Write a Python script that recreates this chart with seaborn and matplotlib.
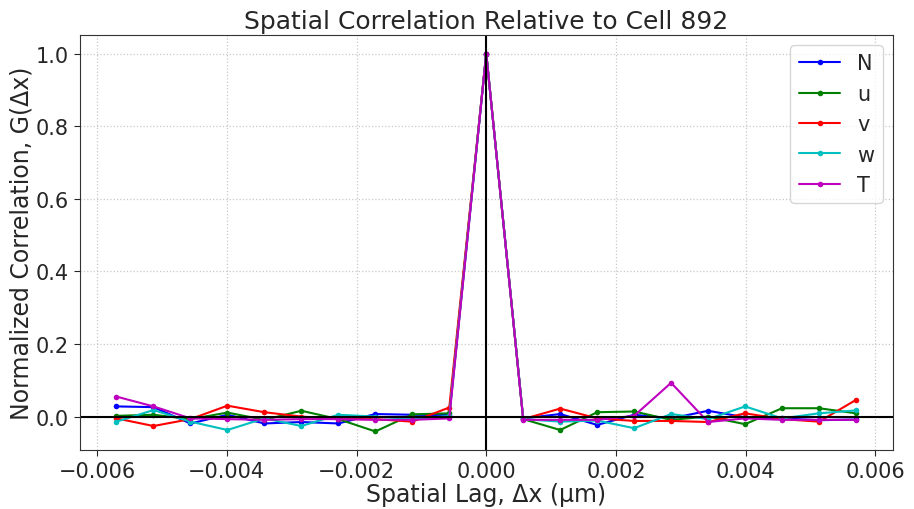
import numpy as np
import pandas as pd
import matplotlib
matplotlib.use("Agg")
import matplotlib.pyplot as plt
import seaborn as sns

lag_step = 0.00057
lag_index = list(range(-10, 11))

N_vals = [0.028, 0.026, -0.019, 0.005, -0.019, -0.015, -0.019, 0.007, 0.005, 0.004, 1.0,
          -0.005, 0.007, -0.023, 0.005, -0.005, 0.016, -0.002, -0.005, -0.010, -0.008]
u_vals = [0.002, 0.005, -0.007, 0.011, -0.009, 0.016, -0.007, -0.041, 0.006, 0.009, 1.0,
          -0.007, -0.037, 0.012, 0.014, -0.009, 0.000, -0.021, 0.023, 0.023, 0.009]
v_vals = [-0.005, -0.026, -0.007, 0.030, 0.012, 0.000, -0.007, -0.007, -0.014, 0.025, 1.0,
          -0.007, 0.022, -0.005, -0.012, -0.012, -0.015, 0.009, -0.007, -0.014, 0.046]
w_vals = [-0.014, 0.018, -0.014, -0.037, -0.005, -0.026, 0.005, 0.000, -0.007, 0.002, 1.0,
          -0.007, -0.014, -0.011, -0.032, 0.007, -0.007, 0.028, -0.005, 0.009, 0.017]
T_vals = [0.055, 0.028, -0.005, -0.007, -0.009, -0.007, -0.007, -0.009, -0.009, -0.005, 1.0,
          -0.009, -0.009, -0.009, 0.002, 0.093, -0.015, -0.005, -0.009, -0.009, -0.009]

series_names = ["N", "u", "v", "w", "T"]
series_vals = [N_vals, u_vals, v_vals, w_vals, T_vals]
colors = ["b", "g", "r", "c", "m"]

lags = [i * lag_step for i in lag_index]
rows = []
for name, vals in zip(series_names, series_vals):
    for x, y in zip(lags, vals):
        rows.append({"lag": x, "G": y, "var": name})
df = pd.DataFrame(rows)

sns.set_style("white")
plt.rcParams["font.family"] = ["DejaVu Sans"]

fig, ax = plt.subplots(figsize=(9.14, 5.1), dpi=100)
for name, col in zip(series_names, colors):
    sns.lineplot(data=df[df["var"] == name], x="lag", y="G", color=col, marker="o",
                 markersize=4, markeredgewidth=0, linewidth=1.5, label=name, ax=ax)

ax.axhline(0, color="black", linewidth=1.5)
ax.axvline(0, color="black", linewidth=1.5)
ax.grid(True, linestyle=":", color="#c8c8c8", linewidth=0.9)
ax.set_yticks([0.0, 0.2, 0.4, 0.6, 0.8, 1.0])
ax.set_title("Spatial Correlation Relative to Cell 892", fontsize=18, pad=5)
ax.set_xlabel("Spatial Lag, Δx (μm)", fontsize=17, labelpad=1)
ax.set_ylabel("Normalized Correlation, G(Δx)", fontsize=17, labelpad=2)
ax.tick_params(labelsize=15, length=4, left=True, bottom=True)
for s in ax.spines.values():
    s.set_color("#333333")
    s.set_linewidth(0.8)
ax.legend(loc="upper right", fontsize=15, frameon=True)
plt.subplots_adjust(left=0.087, right=0.977, top=0.93, bottom=0.115)
fig.savefig("out.png", dpi=100)
